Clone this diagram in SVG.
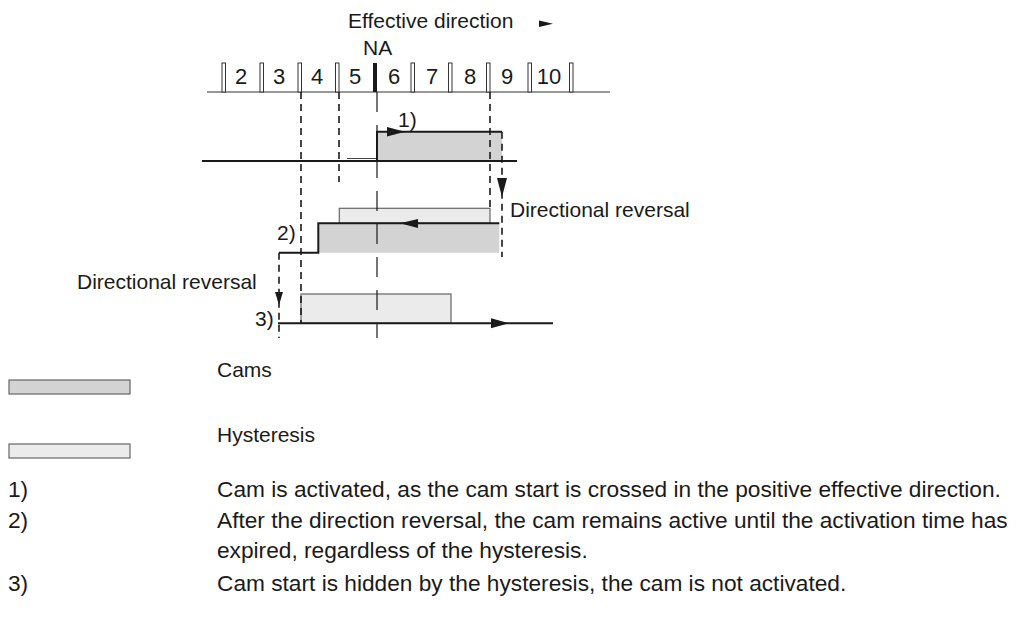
<svg xmlns="http://www.w3.org/2000/svg" width="1021" height="621" viewBox="0 0 1021 621">
<style>
text{font-family:"Liberation Sans",Arial,sans-serif;font-size:21px;fill:#1a1a1a}
.num{text-anchor:middle;font-size:22px}
.para{font-size:22.7px}
.mk{fill:#fff;stroke:#333;stroke-width:1}
.cam{fill:#d3d3d3;stroke:none}
.hys{fill:#ebebeb;stroke:#666;stroke-width:1.2}
.thick{fill:none;stroke:#1a1a1a;stroke-width:2}
.thin{fill:none;stroke:#333;stroke-width:1.2}
.dash{fill:none;stroke:#1a1a1a;stroke-width:1.6;stroke-dasharray:7 5}
.center{fill:none;stroke:#1a1a1a;stroke-width:1.2;stroke-dasharray:20 13}
.ah{fill:#1a1a1a}
</style>
<rect width="1021" height="621" fill="#fff"/>

<g id="header">
<text x="348" y="28">Effective direction</text>
<polygon class="ah" points="539,20.5 553,23.7 539,27"/>
<text x="363" y="55">NA</text>
</g>

<g id="scale">
<line class="thin" x1="207" y1="92" x2="610" y2="92"/>
<rect class="mk" x="222" y="63" width="3.5" height="29"/>
<rect class="mk" x="260" y="63" width="3.5" height="29"/>
<rect class="mk" x="298" y="63" width="3.5" height="29"/>
<rect class="mk" x="335.5" y="63" width="3.5" height="29"/>
<rect x="373" y="63" width="4" height="29" fill="#1a1a1a"/>
<rect class="mk" x="411" y="63" width="3.5" height="29"/>
<rect class="mk" x="448.5" y="63" width="3.5" height="29"/>
<rect class="mk" x="486.5" y="63" width="3.5" height="29"/>
<rect class="mk" x="528" y="63" width="3.5" height="29"/>
<rect class="mk" x="569.5" y="63" width="3.5" height="29"/>
<text class="num" x="241" y="84">2</text>
<text class="num" x="279" y="84">3</text>
<text class="num" x="317" y="84">4</text>
<text class="num" x="355" y="84">5</text>
<text class="num" x="394" y="84">6</text>
<text class="num" x="432" y="84">7</text>
<text class="num" x="470" y="84">8</text>
<text class="num" x="507" y="84">9</text>
<text class="num" x="549" y="84">10</text>
</g>

<g id="cam1">
<rect class="cam" x="377" y="131.7" width="125" height="29.3"/>
<line class="thick" x1="202" y1="161" x2="517" y2="161"/>
<line x1="347" y1="158.5" x2="377" y2="158.5" stroke="#444" stroke-width="1"/>
<polyline class="thick" points="377,161 377,131.7 502,131.7"/>
<polygon class="ah" points="387,127 405,131.7 387,136.5"/>
<text x="398" y="127">1)</text>
</g>

<g id="cam2">
<rect class="hys" x="339.3" y="208.3" width="150.7" height="15"/>
<rect class="cam" x="318.3" y="223.3" width="181" height="29.4"/>
<polyline class="thick" points="279,252.7 318.3,252.7 318.3,223.3 499.3,223.3"/>
<polygon class="ah" points="418,219 400,223.3 418,228"/>
<text x="277" y="240">2)</text>
<text x="510" y="217">Directional reversal</text>
</g>

<g id="cam3">
<rect class="hys" x="301" y="294" width="150" height="29.3"/>
<line class="thick" x1="278" y1="323.3" x2="553" y2="323.3"/>
<polygon class="ah" points="491,318.3 509,323.3 491,328.3"/>
<text x="255" y="326">3)</text>
<text x="77" y="289">Directional reversal</text>
</g>

<g id="connectors">
<line class="center" x1="377" y1="92" x2="377" y2="338"/>
<line class="dash" x1="301" y1="92" x2="301" y2="323"/>
<line class="dash" x1="339" y1="92" x2="339" y2="182"/>
<line class="dash" x1="490" y1="92" x2="490" y2="208"/>
<line class="dash" x1="502" y1="131.7" x2="502" y2="257"/>
<polygon class="ah" points="497,178 507,178 502,197"/>
<line class="dash" x1="279" y1="252.7" x2="279" y2="338"/>
<polygon class="ah" points="275,292 283,292 279,305"/>
</g>

<g id="legend">
<rect x="9" y="380" width="121" height="14" fill="#d3d3d3" stroke="#666" stroke-width="1.2"/>
<text x="217" y="377">Cams</text>
<rect x="9" y="444" width="121" height="14" fill="#ebebeb" stroke="#666" stroke-width="1.2"/>
<text x="217" y="442">Hysteresis</text>
</g>

<g id="notes" class="para">
<text class="para" x="8" y="497">1)</text>
<text class="para" x="217" y="497">Cam is activated, as the cam start is crossed in the positive effective direction.</text>
<text class="para" x="8" y="528">2)</text>
<text class="para" x="217" y="528">After the direction reversal, the cam remains active until the activation time has</text>
<text class="para" x="217" y="558">expired, regardless of the hysteresis.</text>
<text class="para" x="8" y="591">3)</text>
<text class="para" x="217" y="591">Cam start is hidden by the hysteresis, the cam is not activated.</text>
</g>
</svg>
